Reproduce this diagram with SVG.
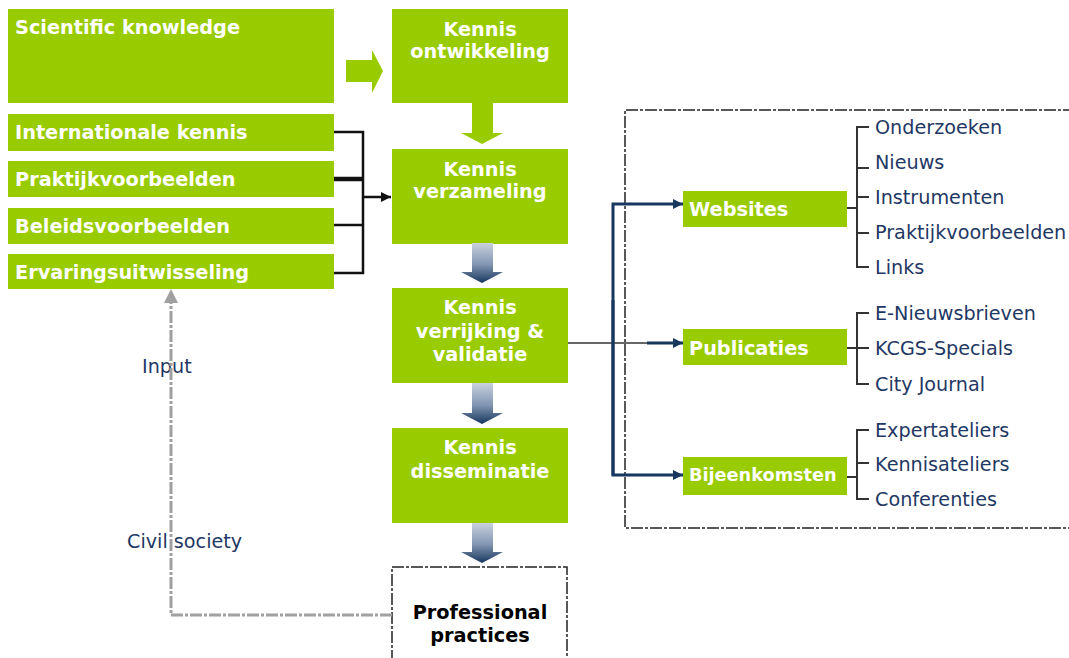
<svg xmlns="http://www.w3.org/2000/svg" width="1069" height="658" viewBox="0 0 1069 658">
  <defs>
    <style>
      .box { fill: #99cc00; }
      .bt { font-family: "DejaVu Sans", Verdana, sans-serif; font-weight: bold; font-size: 19.3px; fill: #ffffff; }
      .bc { text-anchor: middle; }
      .lt { font-family: "DejaVu Sans", Verdana, sans-serif; font-size: 19.2px; fill: #1f3864; }
      .frame { fill: none; stroke: #222222; stroke-width: 1.5; stroke-dasharray: 12 2 3 2; }
      .brk { fill: none; stroke: #111111; stroke-width: 2.5; }
      .tree { fill: none; stroke: #333333; stroke-width: 2; }
      .blue { fill: none; stroke: #17375e; stroke-width: 3; }
      .feedback { fill: none; stroke: #a0a0a0; stroke-width: 3; stroke-dasharray: 12 2 3 2; }
      .pp { font-family: "DejaVu Sans", Verdana, sans-serif; font-weight: bold; font-size: 19.3px; fill: #000000; text-anchor: middle; }
    </style>
    <linearGradient id="flowGrad" x1="0" y1="0" x2="0" y2="1">
      <stop offset="0" stop-color="#c9d2de"/>
      <stop offset="0.55" stop-color="#7f93b0"/>
      <stop offset="1" stop-color="#17375e"/>
    </linearGradient>
    <marker id="blackHead" viewBox="0 0 10 10" refX="10" refY="5" markerWidth="4" markerHeight="4" orient="auto" markerUnits="strokeWidth">
      <path d="M0,0 L10,5 L0,10 z" fill="#111111"/>
    </marker>
    <marker id="blueHead" viewBox="0 0 10 10" refX="10" refY="5" markerWidth="3.5" markerHeight="3.5" orient="auto" markerUnits="strokeWidth">
      <path d="M0,0 L10,5 L0,10 z" fill="#17375e"/>
    </marker>
  </defs>

  <rect width="1069" height="658" fill="#ffffff"/>

  <!-- source boxes on the left -->
  <g id="scientific-knowledge">
    <rect class="box" x="8" y="9" width="326" height="94"/>
    <text class="bt" x="15" y="34">Scientific knowledge</text>
  </g>
  <g id="internationale-kennis">
    <rect class="box" x="8" y="114" width="326" height="37"/>
    <text class="bt" x="15" y="139">Internationale kennis</text>
  </g>
  <g id="praktijkvoorbeelden">
    <rect class="box" x="8" y="161" width="326" height="36"/>
    <text class="bt" x="15" y="186">Praktijkvoorbeelden</text>
  </g>
  <g id="beleidsvoorbeelden">
    <rect class="box" x="8" y="208" width="326" height="36"/>
    <text class="bt" x="15" y="233">Beleidsvoorbeelden</text>
  </g>
  <g id="ervaringsuitwisseling">
    <rect class="box" x="8" y="254" width="326" height="35"/>
    <text class="bt" x="15" y="279">Ervaringsuitwisseling</text>
  </g>

  <!-- central process column -->
  <g id="kennis-ontwikkeling">
    <rect class="box" x="392" y="9" width="176" height="94"/>
    <text class="bt bc" x="480" y="36">Kennis</text>
    <text class="bt bc" x="480" y="58">ontwikkeling</text>
  </g>
  <g id="kennis-verzameling">
    <rect class="box" x="392" y="149" width="176" height="95"/>
    <text class="bt bc" x="480" y="176">Kennis</text>
    <text class="bt bc" x="480" y="198">verzameling</text>
  </g>
  <g id="kennis-verrijking">
    <rect class="box" x="392" y="288" width="176" height="95"/>
    <text class="bt bc" x="480" y="314">Kennis</text>
    <text class="bt bc" x="480" y="338">verrijking &amp;</text>
    <text class="bt bc" x="480" y="361">validatie</text>
  </g>
  <g id="kennis-disseminatie">
    <rect class="box" x="392" y="428" width="176" height="95"/>
    <text class="bt bc" x="480" y="454">Kennis</text>
    <text class="bt bc" x="480" y="478">disseminatie</text>
  </g>
  <g id="professional-practices">
    <path class="frame" d="M392,662 L392,567 L567,567 L567,662"/>
    <text class="pp" x="480" y="619">Professional</text>
    <text class="pp" x="480" y="642">practices</text>
  </g>

  <!-- dissemination channels -->
  <g id="channels-frame">
    <path class="frame" d="M1075,110 L625,110 L625,528 L1075,528"/>
  </g>
  <g id="websites">
    <rect class="box" x="683" y="191" width="164" height="36"/>
    <text class="bt" x="689" y="216">Websites</text>
  </g>
  <g id="publicaties">
    <rect class="box" x="683" y="329" width="164" height="36"/>
    <text class="bt" x="689" y="355">Publicaties</text>
  </g>
  <g id="bijeenkomsten">
    <rect class="box" x="683" y="457" width="164" height="38"/>
    <text class="bt" x="689" y="481" style="font-size:17.7px">Bijeenkomsten</text>
  </g>

  <g id="websites-items">
    <text class="lt" x="875" y="134">Onderzoeken</text>
    <text class="lt" x="875" y="169">Nieuws</text>
    <text class="lt" x="875" y="204">Instrumenten</text>
    <text class="lt" x="875" y="239">Praktijkvoorbeelden</text>
    <text class="lt" x="875" y="274">Links</text>
  </g>
  <g id="publicaties-items">
    <text class="lt" x="875" y="320">E-Nieuwsbrieven</text>
    <text class="lt" x="875" y="355">KCGS-Specials</text>
    <text class="lt" x="875" y="391">City Journal</text>
  </g>
  <g id="bijeenkomsten-items">
    <text class="lt" x="875" y="437">Expertateliers</text>
    <text class="lt" x="875" y="471">Kennisateliers</text>
    <text class="lt" x="875" y="506">Conferenties</text>
  </g>

  <!-- labels along the feedback loop -->
  <g id="loop-labels">
    <text class="lt" x="142" y="373">Input</text>
    <text class="lt" x="127" y="548">Civil society</text>
  </g>

  <g id="connectors">
    <!-- block arrows -->
    <path d="M346,60 L372,60 L372,50 L383,71 L372,93 L372,82 L346,82 z" fill="#99cc00"/>
    <path d="M472,103 L493,103 L493,133 L503,133 L482,144 L461,133 L472,133 z" fill="#99cc00"/>
    <path d="M472,243 L493,243 L493,272 L503,272 L482,283 L461,272 L472,272 z" fill="url(#flowGrad)"/>
    <path d="M472,383 L493,383 L493,413 L503,413 L482,424 L461,413 L472,413 z" fill="url(#flowGrad)"/>
    <path d="M472,523 L493,523 L493,552 L503,552 L482,563 L461,552 L472,552 z" fill="url(#flowGrad)"/>

    <!-- bracket gathering the sources -->
    <path class="brk" d="M334,132 L363,132 L363,273 L334,273"/>
    <path class="brk" d="M334,179 L363,179" style="stroke-width:4.5"/>
    <path class="brk" d="M334,225 L363,225"/>
    <path class="brk" d="M363,197 L391,197" marker-end="url(#blackHead)"/>

    <!-- distribution to the channels -->
    <path d="M568,343 L648,343" fill="none" stroke="#333333" stroke-width="1.5"/>
    <path class="blue" d="M613,475 L613,204 L683,204" marker-end="url(#blueHead)"/>
    <path class="blue" d="M613,300 L613,475 L683,475" marker-end="url(#blueHead)"/>
    <path class="blue" d="M647,343 L683,343" marker-end="url(#blueHead)"/>

    <!-- channel trees -->
    <path class="tree" d="M847,208 L857,208 M869,127 L857,127 L857,267 L869,267 M857,168 L869,168 M857,197 L869,197 M857,233 L869,233"/>
    <path class="tree" d="M847,348 L857,348 M869,313 L857,313 L857,384 L869,384 M857,348 L869,348"/>
    <path class="tree" d="M847,477 L857,477 M869,430 L857,430 L857,499 L869,499 M857,463 L869,463"/>

    <!-- feedback from practice -->
    <path class="feedback" d="M392,615 L171,615 L171,303"/>
    <path d="M164,303 L178,303 L171,289 z" fill="#a0a0a0"/>
  </g>
</svg>
